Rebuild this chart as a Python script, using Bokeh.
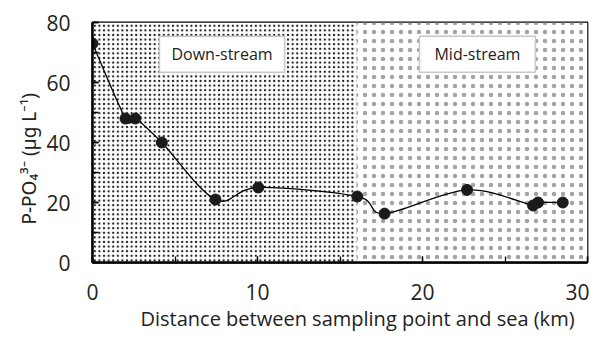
from bokeh.plotting import figure
from bokeh.models import Range1d, SingleIntervalTicker, Label, Title
from bokeh.embed import file_html
from bokeh.resources import INLINE

# ---- data ----
distance_km = [0.0, 2.0, 2.6, 4.2, 7.45, 10.05, 16.05, 17.7, 22.7, 26.7, 27.0, 28.5]
p_po4 = [73, 48, 48, 40, 21, 25, 22, 16.3, 24.2, 19, 20, 20]

zone_names = ["Down-stream", "Mid-stream"]
zone_start = [0, 16]
zone_end = [16, 30]
zone_label_x = [7.85, 23.33]
zone_label_y = [69.4, 69.4]

x_ticks_interval = 10
y_ticks_interval = 20

FONT = "Open Sans"

p = figure(width=589, height=331, output_backend="svg", toolbar_location=None,
           x_range=Range1d(0, 30), y_range=Range1d(0, 80),
           min_border_left=92, min_border_right=2, min_border_top=22,
           min_border_bottom=10)
p.grid.visible = False
p.background_fill_color = "white"
p.outline_line_color = "black"
p.outline_line_width = 1.8

# zone shading (dense dots down-stream, sparse dots mid-stream)
zone_hatch_scale = [4.6, 9]
zone_hatch_color = ["#1e1e1e", "#a4a4a4"]
for i in range(len(zone_names)):
    p.quad(left=[zone_start[i]], right=[zone_end[i]], bottom=[0], top=[80],
           fill_color="white", line_color=None,
           hatch_pattern=".", hatch_scale=zone_hatch_scale[i],
           hatch_color=zone_hatch_color[i])

paddings = [(12, 7), (15, 7)]
for name, lx, ly, pad in zip(zone_names, zone_label_x, zone_label_y, paddings):
    p.add_layout(Label(x=lx, y=ly, text=name, text_align="center",
                       text_baseline="middle", text_font=FONT,
                       text_font_size="16px", text_color="#222222",
                       background_fill_color="white",
                       border_line_color="#c8c8c8", border_line_width=1.5,
                       padding=pad))

# smoothed line (Catmull-Rom style cubic Bezier through data points)
n = len(distance_km)
x0, y0, x1, y1, cx0, cy0, cx1, cy1 = ([] for _ in range(8))
for i in range(n - 1):
    xa, ya = distance_km[i], p_po4[i]
    xb, yb = distance_km[i + 1], p_po4[i + 1]
    xp, yp = (distance_km[i - 1], p_po4[i - 1]) if i > 0 else (xa, ya)
    xn, yn = (distance_km[i + 2], p_po4[i + 2]) if i + 2 < n else (xb, yb)
    x0.append(xa); y0.append(ya); x1.append(xb); y1.append(yb)
    cx0.append(xa + (xb - xp) / 6); cy0.append(ya + (yb - yp) / 6)
    cx1.append(xb - (xn - xa) / 6); cy1.append(yb - (yn - ya) / 6)
p.bezier(x0=x0, y0=y0, x1=x1, y1=y1, cx0=cx0, cy0=cy0, cx1=cx1, cy1=cy1,
         line_color="black", line_width=1.3)

p.scatter(distance_km, p_po4, size=11, fill_color="#1a1a1a", line_color="#1a1a1a")

p.xaxis.ticker = SingleIntervalTicker(interval=x_ticks_interval, num_minor_ticks=2)
p.yaxis.ticker = SingleIntervalTicker(interval=y_ticks_interval, num_minor_ticks=2)

for ax in (p.xaxis, p.yaxis):
    ax.axis_line_color = "black"
    ax.axis_line_width = 2.5
    ax.major_tick_in = 6
    ax.major_tick_out = 0
    ax.minor_tick_in = 6
    ax.minor_tick_out = 0
    ax.major_tick_line_width = 1.3
    ax.minor_tick_line_width = 1.3
    ax.major_tick_line_color = "black"
    ax.minor_tick_line_color = "black"
    ax.major_label_text_font = FONT
    ax.major_label_text_font_size = "21px"
    ax.major_label_text_color = "#222222"

p.xaxis.major_label_standoff = 21
p.yaxis.major_label_standoff = 22

p.add_layout(Title(text="P-PO\u2084\u00b3\u207b (\u00b5g L\u207b\u00b9)",
                   align="left", offset=38, text_font="Noto Sans",
                   text_font_size="19px", text_font_style="normal",
                   text_color="#222222", standoff=3), "left")

p.add_layout(Title(text="Distance between sampling point and sea (km)",
                   align="left", offset=48, text_font=FONT,
                   text_font_size="20px", text_font_style="normal",
                   text_color="#222222", standoff=0), "below")

open("out.html", "w").write(file_html(p, INLINE))
